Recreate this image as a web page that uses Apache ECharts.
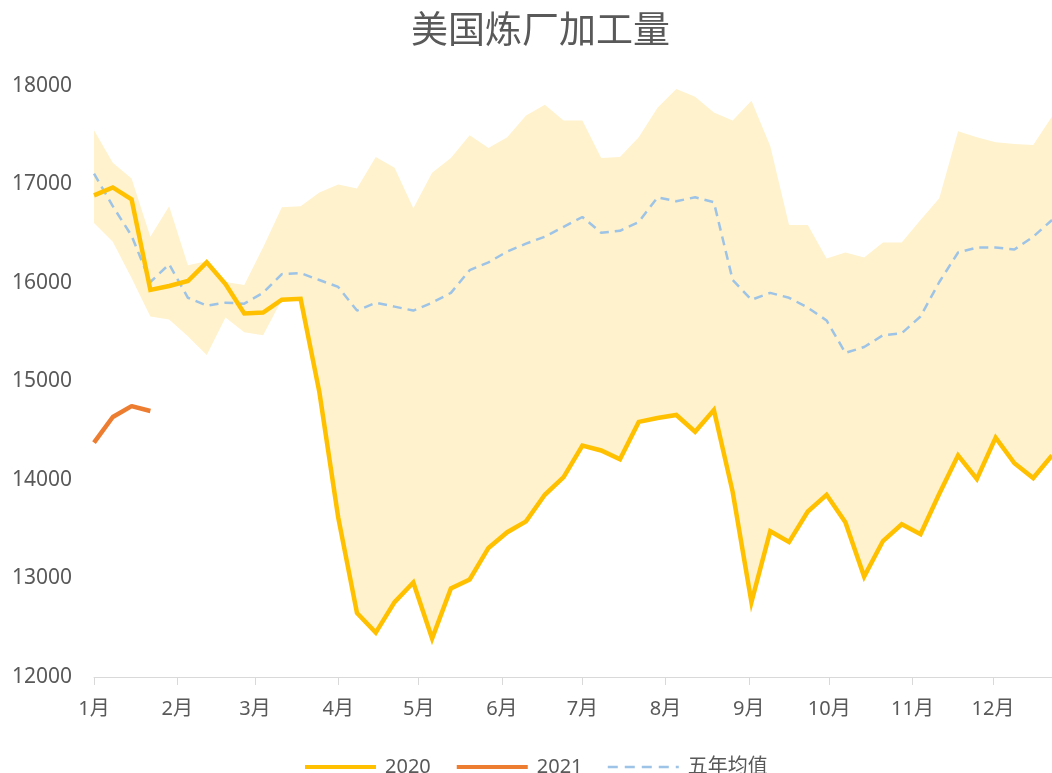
<!DOCTYPE html>
<html>
<head>
<meta charset="utf-8">
<title>美国炼厂加工量</title>
<script src="https://cdn.jsdelivr.net/npm/echarts@6/dist/echarts.min.js"></script>
<style>
  html, body { margin: 0; padding: 0; background: #fff; }
  #chart { width: 1052px; height: 773px; }
</style>
</head>
<body>
<div id="chart"></div>
<script>
// 周度数据，第一周从1月1日开始
const startDate = '2020-01-01'
const monthNames = ['1月', '2月', '3月', '4月', '5月', '6月', '7月', '8月', '9月', '10月', '11月', '12月']

const y2020 = [16890, 16970, 16850, 15930, 15970, 16020, 16210, 15990, 15690, 15700,
  15830, 15840, 14890, 13620, 12650, 12450, 12760, 12960, 12390, 12900,
  12990, 13310, 13470, 13580, 13850, 14030, 14350, 14300, 14210, 14590,
  14630, 14660, 14490, 14710, 13880, 12760, 13480, 13370, 13680, 13850,
  13570, 13020, 13380, 13550, 13450, 13860, 14250, 14010, 14430, 14170,
  14020, 14250]

const y2021 = [14380, 14640, 14750, 14700]

const avg5 = [17110, 16780, 16480, 16010, 16190, 15850, 15770, 15800, 15790, 15900,
  16090, 16100, 16030, 15960, 15720, 15800, 15760, 15720, 15800, 15900,
  16130, 16210, 16320, 16400, 16470, 16570, 16670, 16510, 16530, 16620,
  16870, 16830, 16870, 16820, 16030, 15830, 15900, 15850, 15750, 15620,
  15290, 15350, 15470, 15490, 15660, 16010, 16310, 16360, 16360, 16340,
  16470, 16640]

const rangeLow = [16610, 16420, 16050, 15660, 15630, 15460, 15270, 15650, 15500, 15470,
  15830, 15840, 14890, 13620, 12650, 12450, 12760, 12960, 12390, 12900,
  12990, 13310, 13470, 13580, 13850, 14030, 14350, 14300, 14210, 14590,
  14630, 14660, 14490, 14710, 13880, 12760, 13480, 13370, 13680, 13850,
  13570, 13020, 13380, 13550, 13450, 13860, 14250, 14010, 14430, 14170,
  14020, 14250]

const rangeHigh = [17550, 17220, 17060, 16470, 16780, 16180, 16220, 16010, 15980, 16360,
  16770, 16780, 16920, 17000, 16960, 17280, 17170, 16760, 17120, 17270,
  17500, 17370, 17480, 17700, 17810, 17650, 17650, 17270, 17280, 17480,
  17780, 17970, 17890, 17730, 17650, 17850, 17390, 16590, 16590, 16250,
  16310, 16260, 16410, 16410, 16640, 16860, 17540, 17480, 17430, 17410,
  17400, 17690]

// 日度类目（用来放月份刻度），数据点每7天一个
function buildDays(start, count) {
  const out = []
  const d = new Date(start + 'T00:00:00Z')
  for (let i = 0; i < count; i++) {
    const m = d.getUTCMonth() + 1
    const day = d.getUTCDate()
    out.push(d.getUTCFullYear() + '-' + (m < 10 ? '0' : '') + m + '-' + (day < 10 ? '0' : '') + day)
    d.setUTCDate(d.getUTCDate() + 1)
  }
  return out
}

const days = buildDays(startDate, (y2020.length - 1) * 7 + 1)
const weekly = (arr) => arr.map((v, i) => [i * 7, v])
const isMonthStart = (idx, val) => val.slice(8) === '01'

const fontFam = "'Noto Sans', 'Noto Sans CJK SC', sans-serif"
const chart = echarts.init(document.getElementById('chart'))

chart.setOption({
  animation: false,
  title: {
    text: '美国炼厂加工量',
    left: 406,
    top: 5,
    textStyle: { color: '#595959', fontSize: 37, fontWeight: 'normal', fontFamily: "'Noto Sans CJK SC', sans-serif" }
  },
  legend: {
    left: 298,
    top: 752,
    itemWidth: 71,
    itemHeight: 14,
    itemGap: 24,
    itemStyle: { opacity: 0 },
    data: [
      { name: '2020', lineStyle: { width: 4, color: '#FFC000' } },
      { name: '2021', lineStyle: { width: 4, color: '#ED7D31' } },
      { name: '五年均值', lineStyle: { width: 2.5, color: '#9DC3E6', type: [10, 7] } }
    ],
    textStyle: { color: '#595959', fontSize: 20, fontFamily: fontFam, padding: [0, 0, 0, 4] }
  },
  grid: { left: 94, right: 0, top: 86, bottom: 96 },
  xAxis: {
    type: 'category',
    data: days,
    boundaryGap: false,
    axisLine: { lineStyle: { color: '#D9D9D9', width: 1 } },
    axisTick: { interval: isMonthStart, length: 8, lineStyle: { color: '#D9D9D9' } },
    axisLabel: {
      interval: isMonthStart,
      margin: 22,
      color: '#595959',
      fontSize: 20,
      fontFamily: fontFam,
      formatter: (val) => monthNames[parseInt(val.slice(5, 7), 10) - 1]
    }
  },
  yAxis: {
    type: 'value',
    min: 12000,
    max: 18000,
    interval: 1000,
    axisLine: { show: false },
    axisTick: { show: false },
    splitLine: { show: false },
    axisLabel: { color: '#595959', fontSize: 21, fontFamily: fontFam, margin: 22, formatter: (v) => String(v) }
  },
  series: [
    {
      name: 'rangeLow',
      type: 'line',
      stack: 'band',
      data: weekly(rangeLow),
      symbol: 'none',
      lineStyle: { opacity: 0 },
      silent: true
    },
    {
      name: 'range',
      type: 'line',
      stack: 'band',
      data: weekly(rangeHigh.map((v, i) => v - rangeLow[i])),
      symbol: 'none',
      lineStyle: { opacity: 0 },
      areaStyle: { color: '#FFF2CC', opacity: 1 },
      silent: true
    },
    {
      name: '五年均值',
      type: 'line',
      data: weekly(avg5),
      symbol: 'none',
      z: 3,
      lineStyle: { color: '#9DC3E6', width: 2.5, type: [9, 6] },
      itemStyle: { color: '#9DC3E6' }
    },
    {
      name: '2020',
      type: 'line',
      data: weekly(y2020),
      symbol: 'none',
      z: 4,
      lineStyle: { color: '#FFC000', width: 4.5, join: 'miter' },
      itemStyle: { color: '#FFC000' }
    },
    {
      name: '2021',
      type: 'line',
      data: weekly(y2021),
      symbol: 'none',
      z: 5,
      lineStyle: { color: '#ED7D31', width: 4.5 },
      itemStyle: { color: '#ED7D31' }
    }
  ]
})
</script>
</body>
</html>
